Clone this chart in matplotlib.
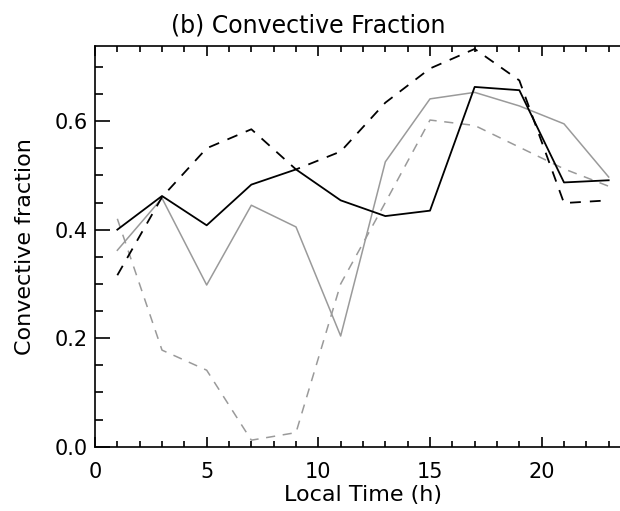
import matplotlib
matplotlib.use("Agg")
import matplotlib.pyplot as plt
from matplotlib.ticker import MultipleLocator

hours = [1, 3, 5, 7, 9, 11, 13, 15, 17, 19, 21, 23]
black_solid = [0.400, 0.462, 0.408, 0.483, 0.511, 0.454, 0.425, 0.435, 0.663, 0.657, 0.487, 0.491]
black_dashed = [0.316, 0.460, 0.550, 0.585, 0.511, 0.544, 0.634, 0.697, 0.733, 0.675, 0.449, 0.454]
gray_solid = [0.362, 0.458, 0.298, 0.445, 0.405, 0.204, 0.525, 0.641, 0.653, 0.628, 0.595, 0.497]
gray_dashed = [0.420, 0.178, 0.141, 0.012, 0.026, 0.300, 0.450, 0.602, 0.592, 0.552, 0.512, 0.480]

title = "(b) Convective Fraction"
xlabel = "Local Time (h)"
ylabel = "Convective fraction"

plt.rcParams['font.family'] = ['DejaVu Sans']
fig = plt.figure(figsize=(6.2, 5.11), dpi=100)
ax = fig.add_axes([95/620, 64.3/511, 536/620, 401/511])

gray = '#9a9a9a'
ax.plot(hours, gray_solid, color=gray, lw=1.1, ls='-')
ax.plot(hours, gray_dashed, color=gray, lw=1.1, ls=(0, (6, 5)))
ax.plot(hours, black_solid, color='black', lw=1.3, ls='-')
ax.plot(hours, black_dashed, color='black', lw=1.3, ls=(0, (6, 5)))

ax.set_xlim(0, 24)
ax.set_ylim(0, 0.739)
ax.xaxis.set_major_locator(MultipleLocator(5))
ax.xaxis.set_minor_locator(MultipleLocator(1))
ax.yaxis.set_major_locator(MultipleLocator(0.2))
ax.yaxis.set_minor_locator(MultipleLocator(0.05))
ax.yaxis.set_major_formatter(plt.FuncFormatter(lambda v, p: f"{v:.1f}"))
ax.spines['right'].set_visible(False)
ax.tick_params(which='both', direction='in', top=True, right=False, labelsize=15, width=1.2)
ax.tick_params(axis='x', which='major', length=7, pad=11)
ax.tick_params(axis='x', which='minor', length=4)
ax.tick_params(axis='y', which='major', length=11, pad=5)
ax.tick_params(axis='y', which='minor', length=6)
for s in ax.spines.values():
    s.set_linewidth(1.2)

ax.set_xlabel(xlabel, fontsize=16, labelpad=2)
ax.set_ylabel(ylabel, fontsize=16, labelpad=14)
fig.text(308/620, 1 - 25/511, title, ha='center', va='center', fontsize=17)

fig.savefig("out.png", dpi=100)
